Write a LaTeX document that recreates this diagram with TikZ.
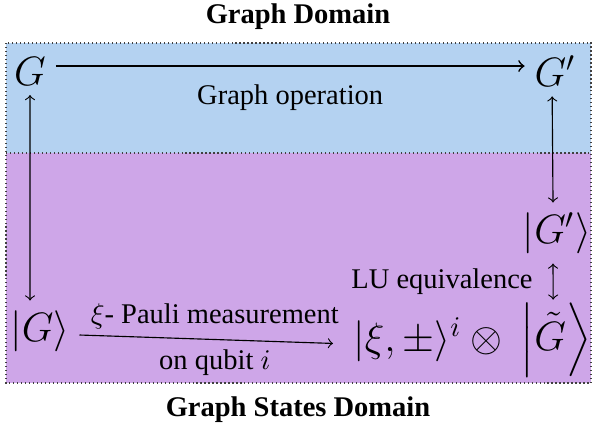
\documentclass[tikz,border=0pt]{standalone}
\usepackage{amssymb}
\usepackage{amsmath}
\usepackage{fontspec}
\setmainfont{Liberation Serif}
\usetikzlibrary{positioning, arrows}
\definecolor{graphblue}{RGB}{180,210,241}
\definecolor{statepurple}{RGB}{206,166,232}
\tikzstyle{state} = [font=\Large, inner sep=3.3pt]
\tikzstyle{lbl} = [font=\normalsize]
\tikzstyle{title} = [font=\bfseries]
\tikzstyle{arrow} = [->]
\tikzstyle{dblarrow} = [<->]
\tikzstyle{border} = [densely dotted, black!75]

\begin{document}
\begin{tikzpicture}[x=0.351pt, y=-0.351pt]
  \useasboundingbox (0,0) rectangle (595,430);
  % the two domains
  \fill [graphblue] (6,43) rectangle (591,153);
  \fill [statepurple] (6,153) rectangle (591,383);
  \draw [border] (6,43) rectangle (591,383);
  \draw [border] (6,153) -- (591,153);
  \node (top) [title] at (298,17) {Graph Domain};
  \node (bot) [title] at (298,410) {Graph States Domain};

  % graphs
  \node (G) [state] at (30,71) {$G$};
  \node (Gp) [state] at (555,71) {$G'$};
  % graph states
  \node (Gk) [state] at (40,331) {$|G\rangle$};
  \node (Gpk) [state] at (557,233) {$|G'\rangle$};
  \node (Gt) [state, inner xsep=1pt, inner ysep=1pt] at (556,340) {$\left|\tilde{G}\right\rangle$};
  \node (xi) [state, inner xsep=1pt, left=4pt of Gt] {$|\xi,\pm\rangle^i\mskip4mu\otimes$};

  \draw [arrow, semithick] ([yshift=1.75pt]G.east) -- node [lbl, below=3pt] {Graph operation} ([yshift=1.75pt]Gp.west);
  \draw [arrow, shorten >=6pt] ([yshift=-1.4pt]Gk.east) -- node [lbl, above] {$\xi$- Pauli measurement} node [lbl, below] {on qubit $i$} ([yshift=-1.4pt]xi.west);

  \draw [dblarrow] (G.south) -- ([xshift=-3.5pt]Gk.north);
  \draw [dblarrow] ([xshift=-1pt]Gp.south) -- ([xshift=-1.4pt]Gpk.north);
  \draw [dblarrow] ([xshift=-1.4pt]Gpk.south) -- node [lbl, inner sep=1pt, left=6pt] {LU equivalence} ([xshift=-1pt]Gt.north);
\end{tikzpicture}
\end{document}
